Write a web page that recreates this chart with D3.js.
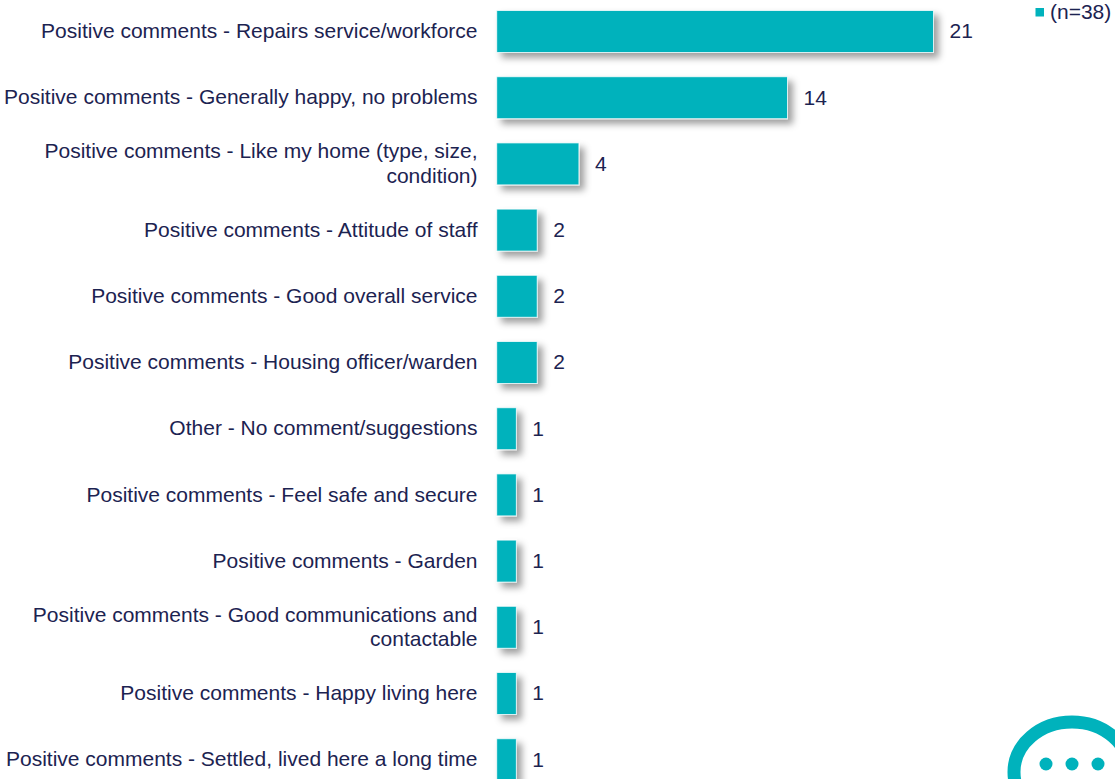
<!DOCTYPE html>
<html>
<head>
<meta charset="utf-8">
<script src="https://cdn.jsdelivr.net/npm/d3@7"></script>
<style>
  html, body { margin: 0; padding: 0; background: #fff; overflow: hidden; }
  svg { display: block; }
  text { font-family: "Liberation Sans", Arial, sans-serif; fill: #1c2351; }
</style>
</head>
<body>
<svg id="chart" width="1115" height="779"></svg>
<script>
const categories = [
  "Positive comments - Repairs service/workforce",
  "Positive comments - Generally happy, no problems",
  "Positive comments - Like my home (type, size,|condition)",
  "Positive comments - Attitude of staff",
  "Positive comments - Good overall service",
  "Positive comments - Housing officer/warden",
  "Other - No comment/suggestions",
  "Positive comments - Feel safe and secure",
  "Positive comments - Garden",
  "Positive comments - Good communications and|contactable",
  "Positive comments - Happy living here",
  "Positive comments - Settled, lived here a long time"
];
const values = [21, 14, 4, 2, 2, 2, 1, 1, 1, 1, 1, 1];
const legendLabel = "(n=38)";

const teal = "#00b2bc";
const fontSize = "21px";
const svg = d3.select("#chart");

// Soft shadow falling to the lower right of each bar
const defs = svg.append("defs");
const shadow = defs.append("filter").attr("id", "barShadow")
  .attr("x", "-50%").attr("y", "-30%").attr("width", "220%").attr("height", "180%");
shadow.append("feDropShadow")
  .attr("dx", 5).attr("dy", 5).attr("stdDeviation", 3.5)
  .attr("flood-color", "#000").attr("flood-opacity", 0.38);

const x = d3.scaleLinear().domain([0, 21]).range([495.5, 933.5]);
const y = d3.scaleBand().domain(categories)
  .range([-1.6, -1.6 + 66.2 * 12]).paddingInner(0.366).paddingOuter(0.183);

// Category labels, right aligned against the bars
const axis = svg.append("g")
  .attr("transform", "translate(477.5,0)")
  .call(d3.axisLeft(y).tickSize(0).tickPadding(0).tickFormat(""));
axis.select(".domain").remove();
axis.selectAll(".tick text").each(function (d) {
  const lines = d.split("|");
  const t = d3.select(this)
    .attr("x", 0).attr("dy", null).attr("y", null)
    .attr("text-anchor", "end")
    .style("font-size", fontSize);
  lines.forEach((line, i) => {
    t.append("tspan").attr("x", 0)
      .attr("y", (i - (lines.length - 1) / 2) * 24.5 + 6.6)
      .text(line);
  });
});

// Bars with a thin light outline; the left edge sits just off the baseline
const barLeft = x(0) + 1.2;
svg.append("g").selectAll("rect").data(categories).join("rect")
  .attr("x", barLeft)
  .attr("y", d => y(d))
  .attr("width", (d, i) => x(values[i]) - barLeft)
  .attr("height", y.bandwidth())
  .attr("fill", teal)
  .attr("stroke", "#ffffff")
  .attr("stroke-opacity", 0.75)
  .attr("stroke-width", 1)
  .attr("filter", "url(#barShadow)");

// Value labels
svg.append("g").selectAll("text").data(categories).join("text")
  .attr("x", (d, i) => x(values[i]) + 16)
  .attr("y", d => y(d) + y.bandwidth() / 2 + 6.8)
  .style("font-size", fontSize)
  .text((d, i) => values[i]);

// Legend
svg.append("rect").attr("x", 1035.5).attr("y", 8).attr("width", 8.5).attr("height", 8.5).attr("fill", teal);
svg.append("text").attr("x", 1050).attr("y", 19).style("font-size", fontSize).text(legendLabel);

// Speech bubble emblem in the corner
const bubble = svg.append("g");
bubble.append("ellipse")
  .attr("cx", 1072).attr("cy", 772).attr("rx", 58).attr("ry", 50)
  .attr("fill", "none").attr("stroke", teal).attr("stroke-width", 13);
[1046, 1072, 1098].forEach(cx => {
  bubble.append("circle").attr("cx", cx).attr("cy", 764).attr("r", 6.5).attr("fill", teal);
});
</script>
</body>
</html>
